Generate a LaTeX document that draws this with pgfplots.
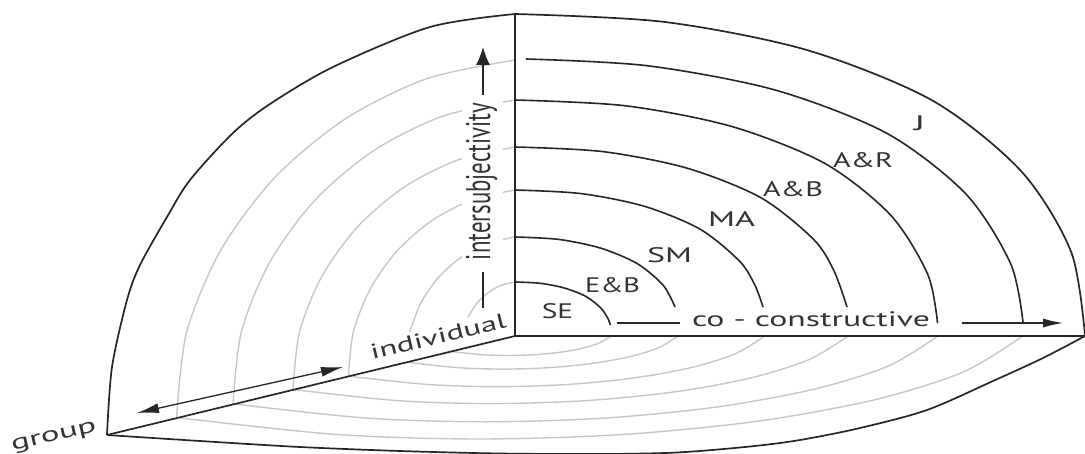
\documentclass[border=0pt]{standalone}
\usepackage{pgfplots}
\pgfplotsset{compat=1.18}
\usepackage{fontspec}
\setmainfont{PT Sans}
\usepackage{graphicx}
\usetikzlibrary{arrows.meta}
\newcommand\lbl[2]{\resizebox{#1}{\height}{#2}}
\begin{document}
\begin{tikzpicture}
\begin{axis}[width=542.5pt,height=227pt,scale only axis,
  xmin=0,xmax=1085,ymin=0,ymax=454,y dir=reverse,hide axis,clip=false,
  gr/.style={color=black!22,line width=0.7pt},
  bk/.style={color=black!85,line width=0.8pt},
  ln/.style={color=black!85,line width=0.65pt}]
% ---- grey arcs, left (individual) plane
\addplot[gr,smooth] coordinates {(515,60) (427,78.6) (345,119.1) (274.6,177.7) (220.6,250.5) (186.6,332.4) (176.6,417.5)};
\addplot[gr,smooth] coordinates {(515,100) (441.7,116.5) (373.4,150.8) (314.7,200.4) (269.8,262.1) (241.4,331.6) (233.1,403.9)};
\addplot[gr,smooth] coordinates {(515,147) (457.3,160.2) (403.5,187.5) (357.3,227.1) (321.9,276.3) (299.6,331.8) (293,389.5)};
\addplot[gr,smooth] coordinates {(515,190) (471.7,200) (431.4,220.9) (396.7,251.3) (370.2,289.1) (353.4,331.7) (348.5,376.1)};
\addplot[gr,smooth] coordinates {(515,237) (486.8,243.8) (460.4,257.8) (437.8,278.2) (420.5,303.6) (409.6,332.3)};
\addplot[gr,smooth] coordinates {(515,282) (500.9,285.4) (487.8,292.9) (476.5,303.8) (467.9,317.5)};
% ---- grey arcs, bottom plane
\addplot[gr,smooth] coordinates {(1022.8,336) (963.2,372) (874.6,399.8) (759,421) (624.4,434.4) (480,439) (335.6,434.4) (176.6,417.5)};
\addplot[gr,smooth] coordinates {(938,336) (888.4,366) (814.5,389.1) (718.3,406.8) (606.1,418) (485.8,421.8) (365.6,418) (233.1,403.9)};
\addplot[gr,smooth] coordinates {(848.1,336) (809,359.6) (750.9,377.9) (675.1,391.8) (586.8,400.6) (492,403.6) (397.3,400.6) (293,389.5)};
\addplot[gr,smooth] coordinates {(764.8,336) (735.5,353.7) (691.9,367.4) (635,377.8) (568.8,384.4) (497.8,386.7) (426.7,384.4) (348.5,376.1)};
\addplot[gr,smooth] coordinates {(678,336) (658.9,347.6) (630.4,356.5) (593.3,363.3) (550.1,367.6) (503.8,369.1) (457.4,367.6) (406.4,362.2)};
\addplot[gr,smooth] coordinates {(611,336) (599.7,342.8) (583,348.1) (561.1,352.1) (535.7,354.6) (508.4,355.5) (481.1,354.6) (451,351.4)};
% ---- mask behind vertical label
\addplot[fill=white,draw=none] coordinates {(462,95) (503,95) (503,272) (462,272)};
% ---- black arcs, right plane
\addplot[bk,smooth] coordinates {(515,282) (540.4,283.3) (564.7,288.1) (586,296.5) (601.1,308.3) (608.2,319) (610.3,325)};
\addplot[bk,smooth] coordinates {(515,237) (558.6,239.4) (600.6,248.1) (637.2,263.6) (663.2,285.3) (675,307)};
\addplot[bk,smooth] coordinates {(515,190) (581.1,193.6) (644.7,206.4) (700.1,229.2) (739.6,261.2) (755.1,285.6) (763,307)};
\addplot[bk,smooth] coordinates {(515,147) (602.8,151.6) (687.2,168.2) (760.9,197.7) (813.3,239.1) (833.9,270.7) (847,307)};
\addplot[bk,smooth] coordinates {(515,100) (625.6,105.8) (731.8,126.5) (824.6,163.3) (890.5,215) (927.7,274.3) (937.5,323)};
\addplot[bk,smooth] coordinates {(526,59) (647.8,65.8) (775.4,90.1) (886.8,133.3) (965.9,194) (1010.6,263.6) (1023,322)};
% ---- outline
\addplot[bk,smooth,line width=0.85pt] coordinates {(515,14) (664.1,21.9) (807.1,50.1) (932.2,100.4) (1021,171) (1071.1,251.8) (1085,336)};
\addplot[bk,smooth,line width=0.85pt] coordinates {(515,14) (430,27) (333,67) (270,104) (233,133) (190,180) (167,217) (140,265) (127,300) (112,367) (107,435)};
\addplot[bk,smooth,line width=0.85pt] coordinates {(107,435) (200,441) (300,447) (400,451) (500,453.5) (600,454) (677,452.5) (750,446.5) (800,440) (860,428) (927,410) (993,381) (1043,358) (1085,336)};
% ---- axes
\addplot[ln,line width=1.2pt] coordinates {(515,14) (515,336)};
\addplot[ln,line width=1.3pt] coordinates {(515,336) (1085,336)};
\addplot[ln,line width=0.85pt] coordinates {(515,336) (107,435)};
% ---- arrows
\addplot[ln,-{Latex[length=9pt,width=7pt]}] coordinates {(483,95) (483,47)};
\addplot[ln] coordinates {(483,272) (483,308)};
\addplot[ln] coordinates {(617,323) (680,323)};
\addplot[ln,-{Latex[length=10pt,width=4.5pt]}] coordinates {(962,323) (1063,323)};
\addplot[ln,{Latex[length=11pt,width=5pt]}-{Latex[length=11pt,width=5pt]}] coordinates {(137,413) (343,367)};
% ---- labels
\begin{scope}[every node/.style={inner sep=0pt,text=black!80,font=\fontsize{10.5}{12}\selectfont}]
\node[anchor=base] at (557.5,318) {\lbl{15.75pt}{SE}};
\node[anchor=base] at (612.5,292) {\lbl{27.5pt}{E\&B}};
\node[anchor=base] at (669.5,262) {\lbl{22.5pt}{SM}};
\node[anchor=base] at (731.5,227) {\lbl{23.5pt}{MA}};
\node[anchor=base] at (793,197) {\lbl{30pt}{A\&B}};
\node[anchor=base] at (863,168) {\lbl{30pt}{A\&R}};
\node[anchor=base] at (919.5,131) {\lbl{5.5pt}{J}};
\node[anchor=base] at (811,326.5) {\lbl{119pt}{co - constructive}};
\node[anchor=base,rotate=90] at (490,181.5) {\scalebox{1}[1.5]{\resizebox{78.5pt}{!}{intersubjectivity}}};
\node[anchor=base,rotate=13.6] at (440,343.5) {\lbl{69.5pt}{individual}};
\node[anchor=base,rotate=13] at (55,441) {\lbl{43.5pt}{group}};
\end{scope}
\end{axis}
\pgfresetboundingbox
\path[use as bounding box] (current axis.south west) rectangle (current axis.north east);
\end{tikzpicture}
\end{document}
